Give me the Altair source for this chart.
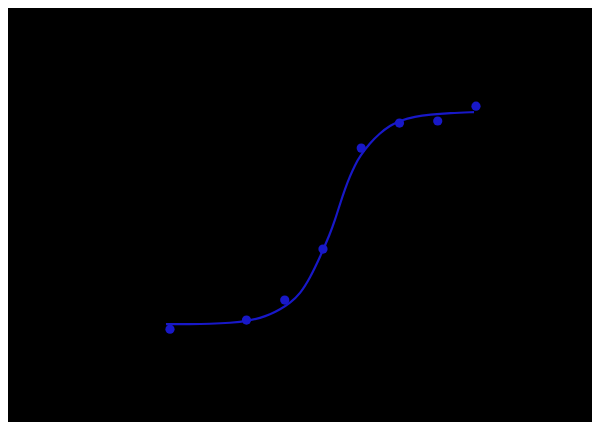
import altair as alt
import pandas as pd

# measured points (log10 concentration, % response)
pt_x = [-11, -9, -8, -7, -6, -5, -4, -3]
pt_y = [-2.4, 1.9, 11.3, 35.4, 83.0, 94.8, 95.8, 102.8]

# fitted curve
fit_x = [-11.105, -10.477, -9.954, -9.431, -8.908, -8.647, -8.386, -8.124, -7.863, -7.601,
         -7.340, -7.078, -6.817, -6.686, -6.556, -6.425, -6.294, -6.163, -6.033, -5.771,
         -5.510, -5.248, -4.987, -4.595, -4.203, -3.680, -3.052]
fit_y = [0.0, 0.0, 0.1, 0.5, 1.65, 2.83, 4.48, 6.84, 9.9, 14.2,
         21.7, 31.6, 42.5, 49.1, 56.6, 63.7, 69.8, 75.0, 79.2, 85.4,
         90.1, 93.6, 96.0, 97.9, 98.8, 99.5, 100.0]

BLUE = "#1818c8"

pts = pd.DataFrame({"x": pt_x, "y": pt_y})
fit = pd.DataFrame({"x": fit_x, "y": fit_y})

xs = alt.Scale(domain=[-15.235, 0.033], nice=False, zero=False)
ys = alt.Scale(domain=[-46.2, 149.1], nice=False, zero=False)

line = alt.Chart(fit).mark_line(color=BLUE, strokeWidth=2.2, interpolate="basis").encode(
    x=alt.X("x:Q", scale=xs, axis=None),
    y=alt.Y("y:Q", scale=ys, axis=None),
)
points = alt.Chart(pts).mark_point(shape="circle", filled=True, color=BLUE, size=85, opacity=1).encode(
    x=alt.X("x:Q", scale=xs, axis=None),
    y=alt.Y("y:Q", scale=ys, axis=None),
)

chart = (line + points).properties(
    width=584, height=414, padding=0, background="black"
).configure_view(stroke=None)

chart.save("out.html", embed_options={"renderer": "svg", "actions": False})
